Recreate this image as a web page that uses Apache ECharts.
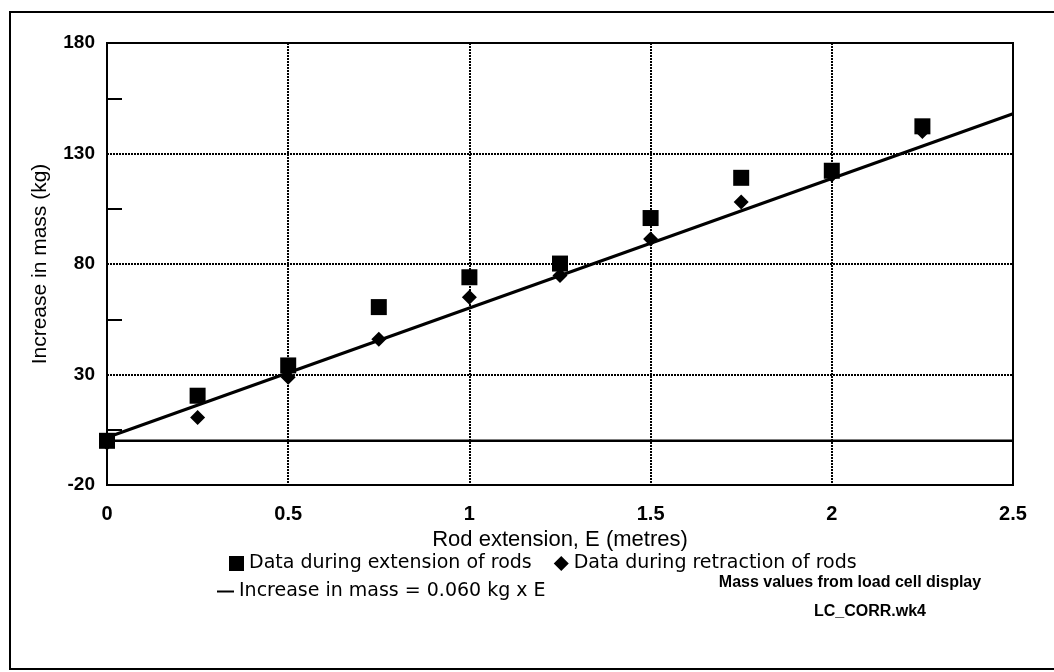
<!DOCTYPE html>
<html>
<head>
<meta charset="utf-8">
<script src="https://cdn.jsdelivr.net/npm/echarts@6/dist/echarts.min.js"></script>
<style>
  html, body { margin: 0; padding: 0; background: #fff; }
  #chart { width: 1054px; height: 672px; }
</style>
</head>
<body>
<div id="chart"></div>
<script>
// rod extension (m) at each reading
const extensionE = [0, 0.25, 0.5, 0.75, 1, 1.25, 1.5, 1.75, 2, 2.25];
// increase in mass (kg)
const massExtending = [0, 20.4, 34.1, 60.5, 74, 80.2, 100.8, 119, 122.2, 142.3];
const massRetracting = [-1, 10.5, 28.7, 46, 65, 74.8, 91.3, 108.1, 120.3, 140];
// fitted line ends
const fitE = [0, 2.5];
const fitMass = [1.5, 148];
const zeroE = [0, 2.5];
const zeroMass = [0, 0];

const yTicks = [-20, 30, 80, 130, 180];
const xTicks = [0, 0.5, 1, 1.5, 2, 2.5];

const extName = 'Data during extension of rods';
const retName = 'Data during retraction of rods';
const fitName = 'Increase in mass = 0.060 kg x E';

const font = "'Liberation Sans', Arial, sans-serif";
const wideFont = "'DejaVu Sans', sans-serif";

const chart = echarts.init(document.getElementById('chart'));

const pairs = (xs, ys) => xs.map((x, i) => [x, ys[i]]);

const option = {
    animation: false,
    backgroundColor: '#fff',
    textStyle: { fontFamily: font, color: '#000' },
    grid: {
        left: 107, top: 43, right: 41, bottom: 187,
        show: true, borderColor: '#000', borderWidth: 2
    },
    xAxis: {
        type: 'value',
        min: xTicks[0], max: xTicks[xTicks.length - 1], interval: 0.5,
        name: 'Rod extension, E (metres)',
        nameLocation: 'middle', nameGap: 44,
        nameTextStyle: { fontSize: 22, color: '#000', fontFamily: font },
        axisLine: { onZero: false, lineStyle: { color: '#000', width: 2 } },
        axisTick: { show: false },
        axisLabel: { fontSize: 20, fontWeight: 'bold', color: '#000', margin: 19, fontFamily: font },
        splitLine: { show: true, lineStyle: { color: '#000', width: 2, type: [2, 1] } }
    },
    yAxis: {
        type: 'value',
        min: yTicks[0], max: yTicks[yTicks.length - 1], interval: 50,
        name: 'Increase in mass (kg)',
        nameLocation: 'middle', nameGap: 56,
        nameTextStyle: { fontSize: 21, color: '#000', fontFamily: font },
        axisLine: { onZero: false, lineStyle: { color: '#000', width: 2 } },
        axisTick: { show: false, inside: true },
        minorTick: { show: true, splitNumber: 2, length: 15, lineStyle: { color: '#000', width: 2 } },
        axisLabel: { fontSize: 19, fontWeight: 'bold', color: '#000', margin: 12, fontFamily: font },
        splitLine: { show: true, lineStyle: { color: '#000', width: 2, type: [2, 1] } }
    },
    legend: [
        {
            data: [{ name: extName, icon: 'rect' }, { name: retName, icon: 'diamond' }],
            left: 224, top: 549,
            itemWidth: 15, itemHeight: 15, itemGap: 22,
            textStyle: { fontSize: 19, color: '#000', fontFamily: wideFont }
        },
        {
            data: [{ name: fitName, icon: 'rect' }],
            left: 212, top: 577,
            itemWidth: 17, itemHeight: 2, itemGap: 8,
            textStyle: { fontSize: 19, color: '#000', fontFamily: wideFont }
        }
    ],
    graphic: [
        {
            type: 'rect', silent: true,
            shape: { x: 10, y: 12, width: 1100, height: 657 },
            style: { fill: 'none', stroke: '#000', lineWidth: 2 }
        },
        {
            type: 'text', x: 850, y: 583,
            style: {
                text: 'Mass values from load cell display', font: "bold 16px " + font, fill: '#000',
                align: 'center', verticalAlign: 'middle'
            }
        },
        {
            type: 'text', x: 870, y: 612,
            style: {
                text: 'LC_CORR.wk4', font: "bold 16px " + font, fill: '#000',
                align: 'center', verticalAlign: 'middle'
            }
        }
    ],
    series: [
        {
            name: 'zero', type: 'line',
            data: pairs(zeroE, zeroMass),
            symbol: 'none', z: 1,
            lineStyle: { color: '#000', width: 2.5 }
        },
        {
            name: fitName, type: 'line',
            data: pairs(fitE, fitMass),
            symbol: 'none', z: 2,
            itemStyle: { color: '#000' },
            lineStyle: { color: '#000', width: 3 }
        },
        {
            name: retName, type: 'scatter',
            data: pairs(extensionE, massRetracting),
            symbol: 'diamond', symbolSize: 15, z: 3,
            itemStyle: { color: '#000', opacity: 1 }
        },
        {
            name: extName, type: 'scatter',
            data: pairs(extensionE, massExtending),
            symbol: 'rect', symbolSize: 16, z: 4,
            itemStyle: { color: '#000', opacity: 1 }
        }
    ]
};

chart.setOption(option);
</script>
</body>
</html>
